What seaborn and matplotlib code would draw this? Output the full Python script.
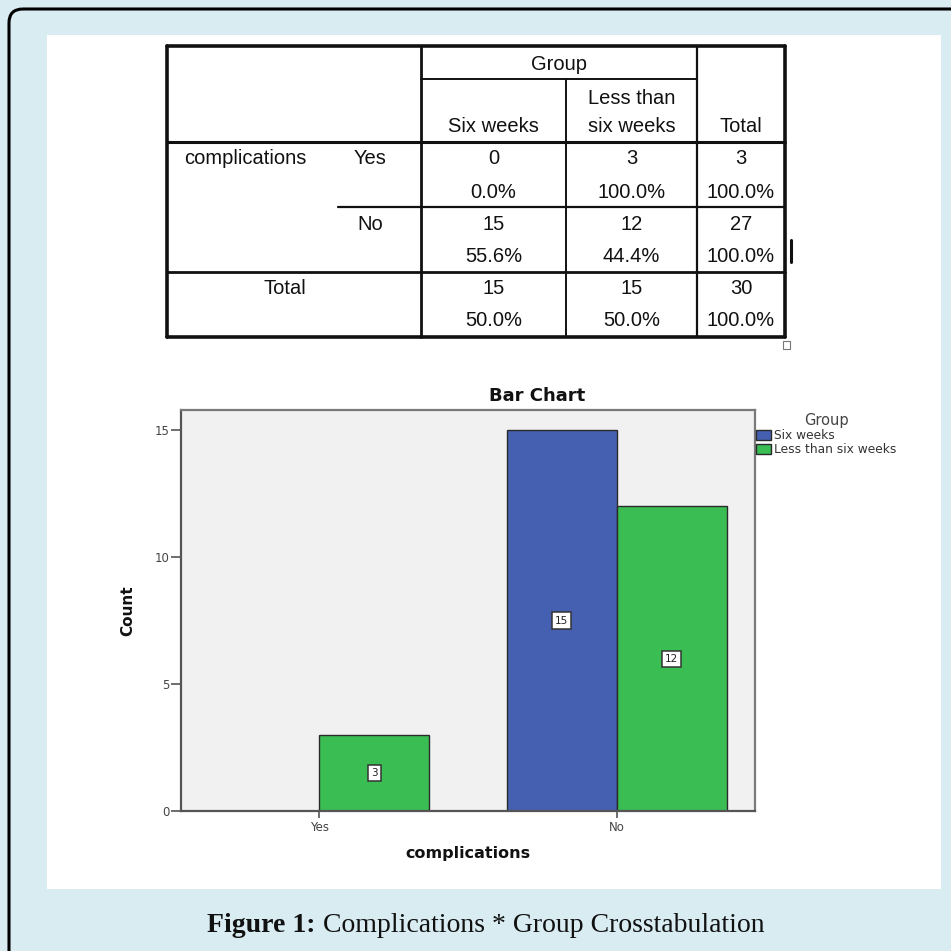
import matplotlib
matplotlib.use("Agg")

import numpy as np
import pandas as pd
import matplotlib.pyplot as plt
import seaborn as sns
from matplotlib.patches import Rectangle, FancyBboxPatch

# ─── Data ────────────────────────────────────────────────────────────────────
categories    = ["Yes", "No"]
groups        = ["Six weeks", "Less than six weeks"]
six_weeks     = [0, 15]
less_than_six = [3, 12]
y_ticks       = [0, 5, 10, 15]
row_var       = "complications"
col_var       = "Group"
caption_bold  = "Figure 1:"
caption_rest  = "Complications * Group Crosstabulation"

BLUE  = "#4560b0"
GREEN = "#3abd52"
W = H = 951

sns.set_theme(style="white")
plt.rcParams["font.family"] = ["DejaVu Sans"]

fig = plt.figure(figsize=(W / 100, H / 100), dpi=100)
fig.patch.set_facecolor("#d8ecf1")

# background layer in pixel coords
bg = fig.add_axes([0, 0, 1, 1], zorder=0)
bg.set_xlim(0, W); bg.set_ylim(H, 0); bg.axis("off")
bg.add_patch(FancyBboxPatch((9, 9), 990, 990, boxstyle="round,pad=0,rounding_size=14",
                            fc="none", ec="black", lw=2.2))
bg.add_patch(Rectangle((47, 35), 894, 854, fc="white", ec="none"))


# ─── Crosstab table ──────────────────────────────────────────────────────────
def draw_table(a):
    L, C1, C2, C3, R = 167, 421, 566, 697, 785
    T, G, HB, R1, R2, B = 46, 79, 142, 207, 272, 337
    k = "#111111"
    for x in (L, R):
        a.plot([x, x], [T, B], color=k, lw=2.6)
    for y in (T, B):
        a.plot([L, R], [y, y], color=k, lw=2.6)
    a.plot([C1, C1], [T, B], color=k, lw=2.0)
    a.plot([C2, C2], [G, B], color=k, lw=1.4)
    a.plot([C3, C3], [T, B], color=k, lw=1.6)
    a.plot([C1, C3], [G, G], color=k, lw=1.4)
    a.plot([L, R], [HB, HB], color=k, lw=2.2)
    a.plot([338, R], [R1, R1], color=k, lw=1.6)
    a.plot([L, R], [R2, R2], color=k, lw=2.0)
    # cursor artefacts from the screenshot
    a.plot([791, 791], [240, 262], color=k, lw=2.2)
    a.add_patch(Rectangle((783, 341), 7, 8, fc="white", ec="#777777", lw=0.8))

    fs = dict(family="Liberation Sans", fontsize=14.5, color="#111111", va="center", ha="center")
    cx = [(C1 + C2) / 2, (C2 + C3) / 2, (C3 + R) / 2]
    a.text((C1 + C3) / 2, 65, col_var, **fs)
    a.text(cx[0], 127, groups[0], **fs)
    a.text(cx[1], 98, "Less than", **fs)
    a.text(cx[1], 127, "six weeks", **fs)
    a.text(cx[2], 127, "Total", **fs)

    a.text(184, 159, row_var, **{**fs, "ha": "left"})
    rows = []
    for i, cat in enumerate(categories):
        vals = [six_weeks[i], less_than_six[i]]
        rows.append((cat, vals + [sum(vals)]))
    tot = [sum(six_weeks), sum(less_than_six)]
    rows.append(("Total", tot + [sum(tot)]))
    ys = [(159, 192), (225, 257), (288, 321)]
    for (lab, vals), (y1, y2) in zip(rows, ys):
        if lab == "Total":
            a.text(285, y1, lab, **fs)
        else:
            a.text(370, y1, lab, **fs)
        for x, v in zip(cx, vals):
            a.text(x, y1, f"{v}", **fs)
            a.text(x, y2, f"{100 * v / vals[-1]:.1f}%", **fs)


draw_table(bg)

# ─── Bar chart ───────────────────────────────────────────────────────────────
df = pd.DataFrame({
    row_var: categories * 2,
    col_var: [groups[0]] * 2 + [groups[1]] * 2,
    "Count": six_weeks + less_than_six,
})

ax = fig.add_axes([181 / W, 1 - 811 / H, (755 - 181) / W, (811 - 410) / H], zorder=2)
sns.barplot(data=df, x=row_var, y="Count", hue=col_var, order=categories,
            hue_order=groups, palette=[BLUE, GREEN], width=0.74, gap=0,
            edgecolor="#2a2a2a", linewidth=1.0, saturation=1, ax=ax)
ax.set_facecolor("#f1f1f1")
ax.set_xlim(-0.465, 1.465)
ax.set_ylim(0, 15.79)
ax.set_yticks(y_ticks)
ax.set_yticklabels([str(t) for t in y_ticks])
for s in ax.spines.values():
    s.set_color("#7a7a7a"); s.set_linewidth(1.6)
ax.spines["left"].set_color("#555555")
ax.spines["bottom"].set_color("#555555")
ax.tick_params(axis="y", direction="out", length=7, width=1.2, color="#555555",
               labelsize=8.5, labelcolor="#444444", pad=1, left=True)
ax.tick_params(axis="x", direction="out", length=5, width=1.2, color="#555555",
               labelsize=8.5, labelcolor="#444444", pad=2, bottom=True)
ax.set_xlabel(row_var, fontsize=11.5, fontweight="bold", color="#111111", labelpad=9)
ax.set_ylabel("Count", fontsize=11, fontweight="bold", color="#111111", labelpad=14)

for cont in ax.containers:
    labels = ["" if b.get_height() == 0 else f"{int(b.get_height())}" for b in cont]
    ax.bar_label(cont, labels=labels, label_type="center", fontsize=7.5, color="#222222",
                 bbox=dict(boxstyle="square,pad=0.3", fc="white", ec="#333333", lw=1.1))

ax.legend_.remove()
handles = [Rectangle((0, 0), 1, 1, fc=c, ec="#2a2a2a", lw=1.0) for c in (BLUE, GREEN)]
leg = fig.legend(handles, groups, title=col_var, loc="upper left",
                 bbox_to_anchor=(756 / W, 1 - 413 / H), frameon=False, fontsize=8.8,
                 title_fontsize=10.5, handlelength=1.2, handleheight=0.9,
                 handletextpad=0.25, labelspacing=0.1, borderpad=0, borderaxespad=0)
for t in leg.get_texts():
    t.set_color("#333333")
leg.get_title().set_color("#444444")

fig.text(537 / W, 1 - 396 / H, "Bar Chart", fontsize=13, fontweight="bold",
         ha="center", va="center", color="#111111")

# ─── Caption ─────────────────────────────────────────────────────────────────
r = fig.canvas.get_renderer()
cap = dict(family="Liberation Serif", fontsize=20, va="center", color="#111111")
t1 = fig.text(0, 1 - 926 / H, caption_bold, fontweight="bold", **cap)
t2 = fig.text(0, 1 - 926 / H, " " + caption_rest, **cap)
w1 = t1.get_window_extent(r).width
w2 = t2.get_window_extent(r).width
x0 = 486 - (w1 + w2) / 2
t1.set_x(x0 / W)
t2.set_x((x0 + w1) / W)

fig.savefig("out.png", dpi=100, facecolor=fig.get_facecolor())
